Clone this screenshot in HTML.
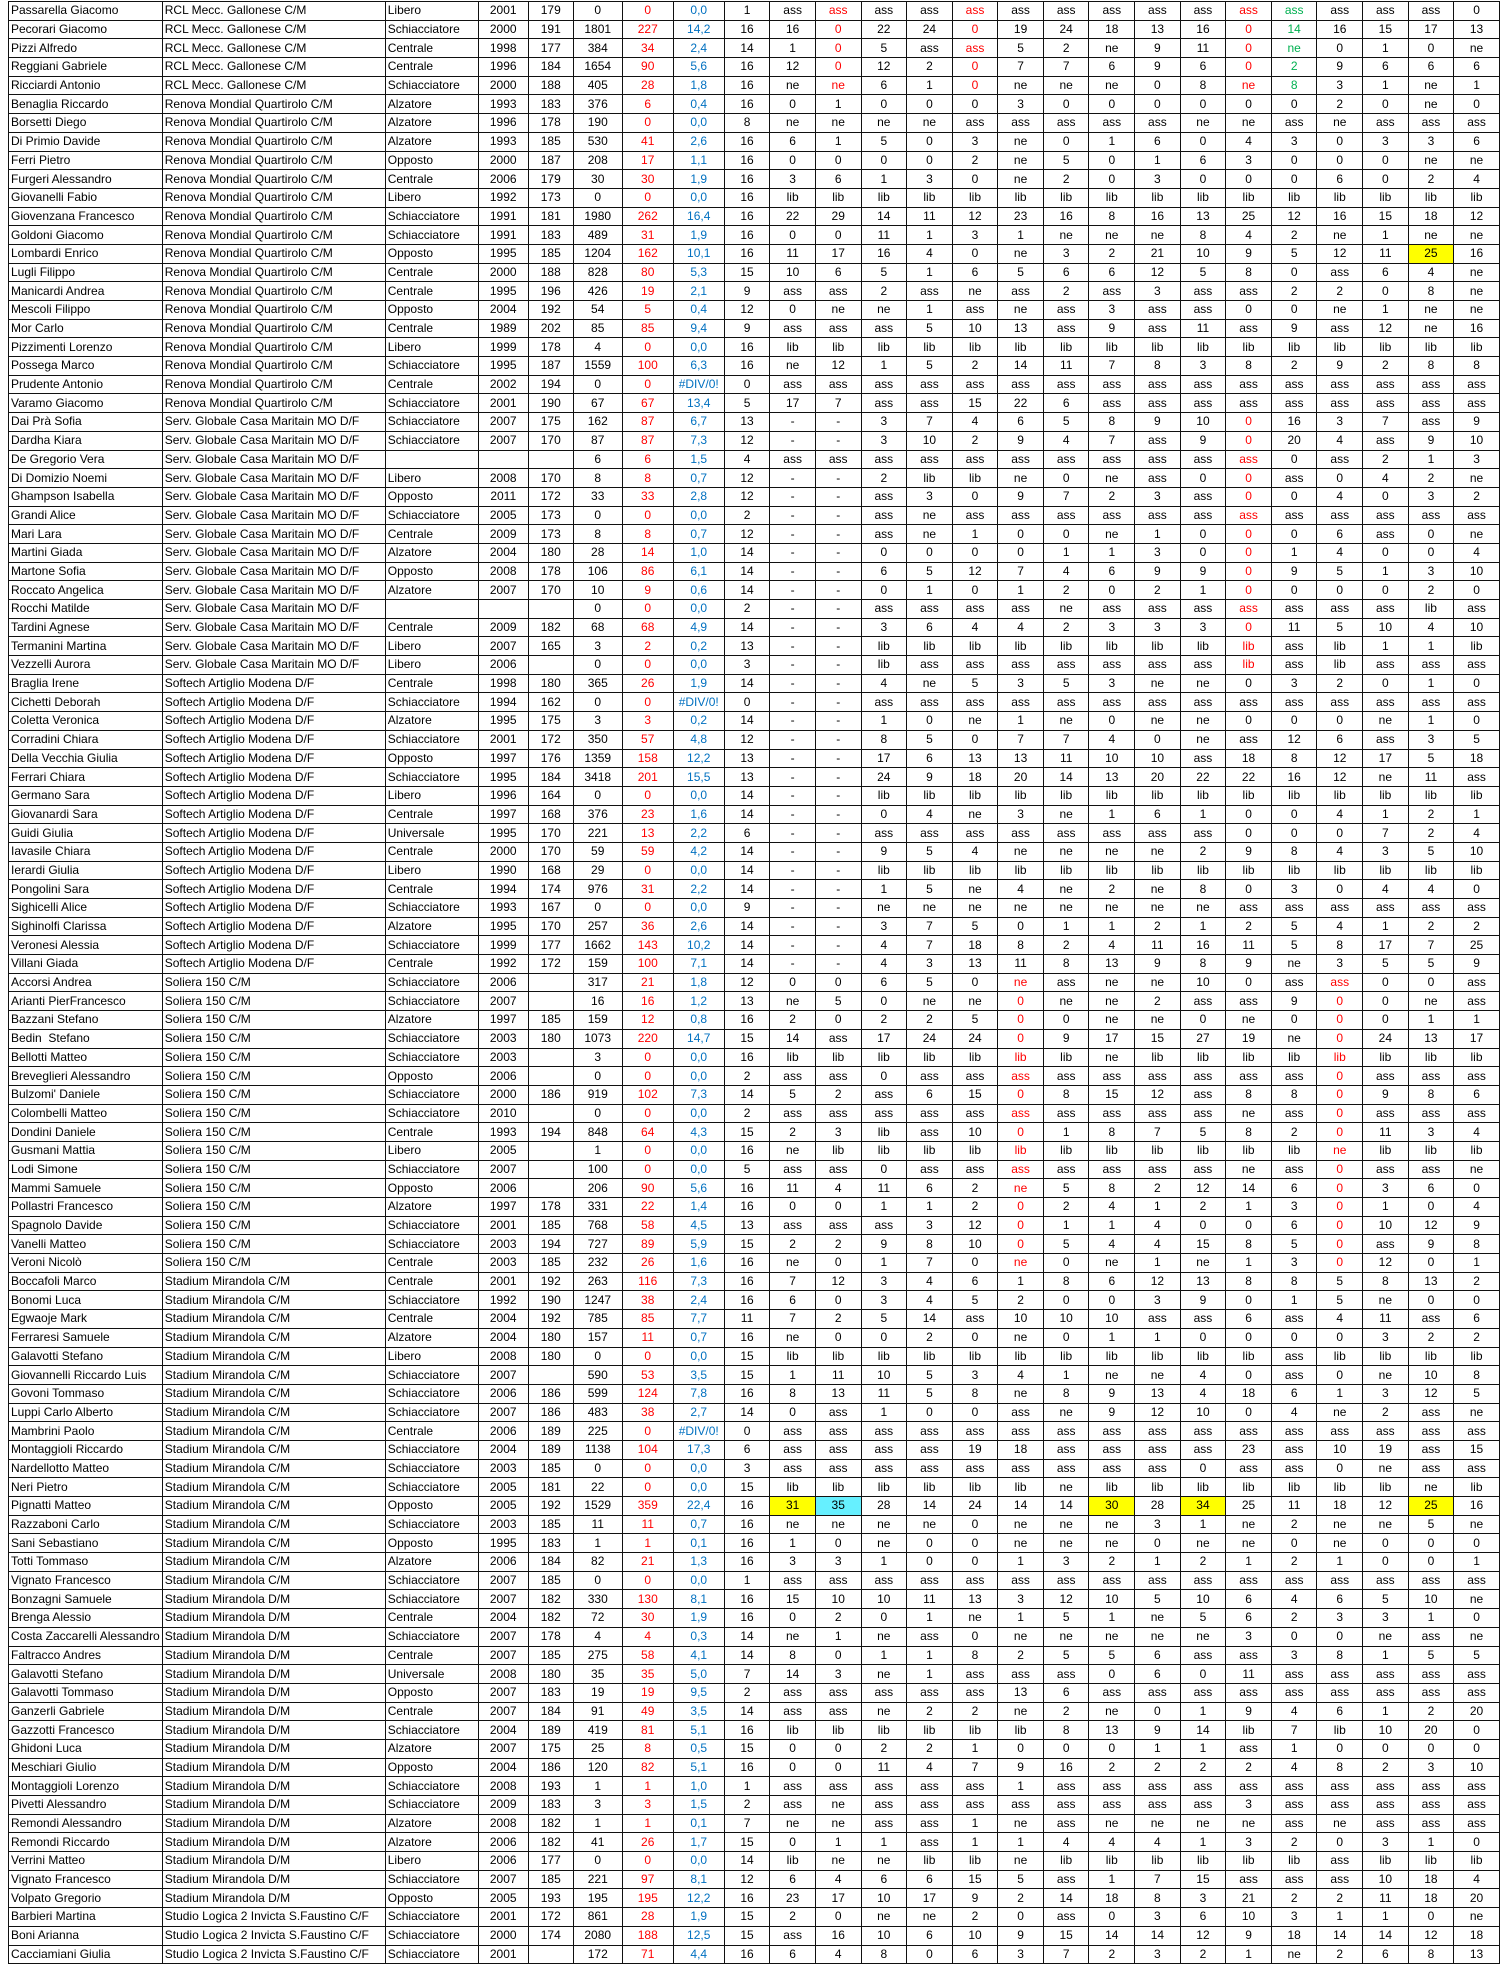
<!DOCTYPE html>
<html><head><meta charset="utf-8"><style>
html,body{margin:0;padding:0;background:#fff;width:1500px;height:1966px;overflow:hidden}
table{position:absolute;left:8px;top:1px;border-collapse:collapse;table-layout:fixed;font:12px "Liberation Sans",Arial,sans-serif;color:#000}
tr{height:18.7px}
td{border:1px solid #111;padding:0 2px;text-align:center;white-space:nowrap;overflow:hidden;line-height:15px}
td:nth-child(-n+3){text-align:left}
td:nth-child(7){color:#f00}
td:nth-child(8){color:#0070c0}
tr.r td:nth-child(11),tr.r td:nth-child(14),tr.r td:nth-child(20){color:#f00}
tr.r td:nth-child(21){color:#00b050}
tr.l td:nth-child(15),tr.l td:nth-child(22){color:#f00}
tr.s td:nth-child(20){color:#f00}
.y{background:#ff0}.c{background:#66f0ff}
</style></head><body>
<table>
<colgroup><col style="width:152px"><col style="width:223px"><col style="width:93px"><col style="width:50px"><col style="width:45px"><col style="width:49px"><col style="width:51px"><col style="width:51px"><col span="17" style="width:45.6px"></colgroup>
<tr class="r"><td>Passarella Giacomo<td>RCL Mecc. Gallonese C/M<td>Libero<td>2001<td>179<td>0<td>0<td>0,0<td>1<td>ass<td>ass<td>ass<td>ass<td>ass<td>ass<td>ass<td>ass<td>ass<td>ass<td>ass<td>ass<td>ass<td>ass<td>ass<td>0
<tr class="r"><td>Pecorari Giacomo<td>RCL Mecc. Gallonese C/M<td>Schiacciatore<td>2000<td>191<td>1801<td>227<td>14,2<td>16<td>16<td>0<td>22<td>24<td>0<td>19<td>24<td>18<td>13<td>16<td>0<td>14<td>16<td>15<td>17<td>13
<tr class="r"><td>Pizzi Alfredo<td>RCL Mecc. Gallonese C/M<td>Centrale<td>1998<td>177<td>384<td>34<td>2,4<td>14<td>1<td>0<td>5<td>ass<td>ass<td>5<td>2<td>ne<td>9<td>11<td>0<td>ne<td>0<td>1<td>0<td>ne
<tr class="r"><td>Reggiani Gabriele<td>RCL Mecc. Gallonese C/M<td>Centrale<td>1996<td>184<td>1654<td>90<td>5,6<td>16<td>12<td>0<td>12<td>2<td>0<td>7<td>7<td>6<td>9<td>6<td>0<td>2<td>9<td>6<td>6<td>6
<tr class="r"><td>Ricciardi Antonio<td>RCL Mecc. Gallonese C/M<td>Schiacciatore<td>2000<td>188<td>405<td>28<td>1,8<td>16<td>ne<td>ne<td>6<td>1<td>0<td>ne<td>ne<td>ne<td>0<td>8<td>ne<td>8<td>3<td>1<td>ne<td>1
<tr><td>Benaglia Riccardo<td>Renova Mondial Quartirolo C/M<td>Alzatore<td>1993<td>183<td>376<td>6<td>0,4<td>16<td>0<td>1<td>0<td>0<td>0<td>3<td>0<td>0<td>0<td>0<td>0<td>0<td>2<td>0<td>ne<td>0
<tr><td>Borsetti Diego<td>Renova Mondial Quartirolo C/M<td>Alzatore<td>1996<td>178<td>190<td>0<td>0,0<td>8<td>ne<td>ne<td>ne<td>ne<td>ass<td>ass<td>ass<td>ass<td>ass<td>ne<td>ne<td>ass<td>ne<td>ass<td>ass<td>ass
<tr><td>Di Primio Davide<td>Renova Mondial Quartirolo C/M<td>Alzatore<td>1993<td>185<td>530<td>41<td>2,6<td>16<td>6<td>1<td>5<td>0<td>3<td>ne<td>0<td>1<td>6<td>0<td>4<td>3<td>0<td>3<td>3<td>6
<tr><td>Ferri Pietro<td>Renova Mondial Quartirolo C/M<td>Opposto<td>2000<td>187<td>208<td>17<td>1,1<td>16<td>0<td>0<td>0<td>0<td>2<td>ne<td>5<td>0<td>1<td>6<td>3<td>0<td>0<td>0<td>ne<td>ne
<tr><td>Furgeri Alessandro<td>Renova Mondial Quartirolo C/M<td>Centrale<td>2006<td>179<td>30<td>30<td>1,9<td>16<td>3<td>6<td>1<td>3<td>0<td>ne<td>2<td>0<td>3<td>0<td>0<td>0<td>6<td>0<td>2<td>4
<tr><td>Giovanelli Fabio<td>Renova Mondial Quartirolo C/M<td>Libero<td>1992<td>173<td>0<td>0<td>0,0<td>16<td>lib<td>lib<td>lib<td>lib<td>lib<td>lib<td>lib<td>lib<td>lib<td>lib<td>lib<td>lib<td>lib<td>lib<td>lib<td>lib
<tr><td>Giovenzana Francesco<td>Renova Mondial Quartirolo C/M<td>Schiacciatore<td>1991<td>181<td>1980<td>262<td>16,4<td>16<td>22<td>29<td>14<td>11<td>12<td>23<td>16<td>8<td>16<td>13<td>25<td>12<td>16<td>15<td>18<td>12
<tr><td>Goldoni Giacomo<td>Renova Mondial Quartirolo C/M<td>Schiacciatore<td>1991<td>183<td>489<td>31<td>1,9<td>16<td>0<td>0<td>11<td>1<td>3<td>1<td>ne<td>ne<td>ne<td>8<td>4<td>2<td>ne<td>1<td>ne<td>ne
<tr><td>Lombardi Enrico<td>Renova Mondial Quartirolo C/M<td>Opposto<td>1995<td>185<td>1204<td>162<td>10,1<td>16<td>11<td>17<td>16<td>4<td>0<td>ne<td>3<td>2<td>21<td>10<td>9<td>5<td>12<td>11<td class="y">25<td>16
<tr><td>Lugli Filippo<td>Renova Mondial Quartirolo C/M<td>Centrale<td>2000<td>188<td>828<td>80<td>5,3<td>15<td>10<td>6<td>5<td>1<td>6<td>5<td>6<td>6<td>12<td>5<td>8<td>0<td>ass<td>6<td>4<td>ne
<tr><td>Manicardi Andrea<td>Renova Mondial Quartirolo C/M<td>Centrale<td>1995<td>196<td>426<td>19<td>2,1<td>9<td>ass<td>ass<td>2<td>ass<td>ne<td>ass<td>2<td>ass<td>3<td>ass<td>ass<td>2<td>2<td>0<td>8<td>ne
<tr><td>Mescoli Filippo<td>Renova Mondial Quartirolo C/M<td>Opposto<td>2004<td>192<td>54<td>5<td>0,4<td>12<td>0<td>ne<td>ne<td>1<td>ass<td>ne<td>ass<td>3<td>ass<td>ass<td>0<td>0<td>ne<td>1<td>ne<td>ne
<tr><td>Mor Carlo<td>Renova Mondial Quartirolo C/M<td>Centrale<td>1989<td>202<td>85<td>85<td>9,4<td>9<td>ass<td>ass<td>ass<td>5<td>10<td>13<td>ass<td>9<td>ass<td>11<td>ass<td>9<td>ass<td>12<td>ne<td>16
<tr><td>Pizzimenti Lorenzo<td>Renova Mondial Quartirolo C/M<td>Libero<td>1999<td>178<td>4<td>0<td>0,0<td>16<td>lib<td>lib<td>lib<td>lib<td>lib<td>lib<td>lib<td>lib<td>lib<td>lib<td>lib<td>lib<td>lib<td>lib<td>lib<td>lib
<tr><td>Possega Marco<td>Renova Mondial Quartirolo C/M<td>Schiacciatore<td>1995<td>187<td>1559<td>100<td>6,3<td>16<td>ne<td>12<td>1<td>5<td>2<td>14<td>11<td>7<td>8<td>3<td>8<td>2<td>9<td>2<td>8<td>8
<tr><td>Prudente Antonio<td>Renova Mondial Quartirolo C/M<td>Centrale<td>2002<td>194<td>0<td>0<td>#DIV/0!<td>0<td>ass<td>ass<td>ass<td>ass<td>ass<td>ass<td>ass<td>ass<td>ass<td>ass<td>ass<td>ass<td>ass<td>ass<td>ass<td>ass
<tr><td>Varamo Giacomo<td>Renova Mondial Quartirolo C/M<td>Schiacciatore<td>2001<td>190<td>67<td>67<td>13,4<td>5<td>17<td>7<td>ass<td>ass<td>15<td>22<td>6<td>ass<td>ass<td>ass<td>ass<td>ass<td>ass<td>ass<td>ass<td>ass
<tr class="s"><td>Dai Prà Sofia<td>Serv. Globale Casa Maritain MO D/F<td>Schiacciatore<td>2007<td>175<td>162<td>87<td>6,7<td>13<td>-<td>-<td>3<td>7<td>4<td>6<td>5<td>8<td>9<td>10<td>0<td>16<td>3<td>7<td>ass<td>9
<tr class="s"><td>Dardha Kiara<td>Serv. Globale Casa Maritain MO D/F<td>Schiacciatore<td>2007<td>170<td>87<td>87<td>7,3<td>12<td>-<td>-<td>3<td>10<td>2<td>9<td>4<td>7<td>ass<td>9<td>0<td>20<td>4<td>ass<td>9<td>10
<tr class="s"><td>De Gregorio Vera<td>Serv. Globale Casa Maritain MO D/F<td><td><td><td>6<td>6<td>1,5<td>4<td>ass<td>ass<td>ass<td>ass<td>ass<td>ass<td>ass<td>ass<td>ass<td>ass<td>ass<td>0<td>ass<td>2<td>1<td>3
<tr class="s"><td>Di Domizio Noemi<td>Serv. Globale Casa Maritain MO D/F<td>Libero<td>2008<td>170<td>8<td>8<td>0,7<td>12<td>-<td>-<td>2<td>lib<td>lib<td>ne<td>0<td>ne<td>ass<td>0<td>0<td>ass<td>0<td>4<td>2<td>ne
<tr class="s"><td>Ghampson Isabella<td>Serv. Globale Casa Maritain MO D/F<td>Opposto<td>2011<td>172<td>33<td>33<td>2,8<td>12<td>-<td>-<td>ass<td>3<td>0<td>9<td>7<td>2<td>3<td>ass<td>0<td>0<td>4<td>0<td>3<td>2
<tr class="s"><td>Grandi Alice<td>Serv. Globale Casa Maritain MO D/F<td>Schiacciatore<td>2005<td>173<td>0<td>0<td>0,0<td>2<td>-<td>-<td>ass<td>ne<td>ass<td>ass<td>ass<td>ass<td>ass<td>ass<td>ass<td>ass<td>ass<td>ass<td>ass<td>ass
<tr class="s"><td>Mari Lara<td>Serv. Globale Casa Maritain MO D/F<td>Centrale<td>2009<td>173<td>8<td>8<td>0,7<td>12<td>-<td>-<td>ass<td>ne<td>1<td>0<td>0<td>ne<td>1<td>0<td>0<td>0<td>6<td>ass<td>0<td>ne
<tr class="s"><td>Martini Giada<td>Serv. Globale Casa Maritain MO D/F<td>Alzatore<td>2004<td>180<td>28<td>14<td>1,0<td>14<td>-<td>-<td>0<td>0<td>0<td>0<td>1<td>1<td>3<td>0<td>0<td>1<td>4<td>0<td>0<td>4
<tr class="s"><td>Martone Sofia<td>Serv. Globale Casa Maritain MO D/F<td>Opposto<td>2008<td>178<td>106<td>86<td>6,1<td>14<td>-<td>-<td>6<td>5<td>12<td>7<td>4<td>6<td>9<td>9<td>0<td>9<td>5<td>1<td>3<td>10
<tr class="s"><td>Roccato Angelica<td>Serv. Globale Casa Maritain MO D/F<td>Alzatore<td>2007<td>170<td>10<td>9<td>0,6<td>14<td>-<td>-<td>0<td>1<td>0<td>1<td>2<td>0<td>2<td>1<td>0<td>0<td>0<td>0<td>2<td>0
<tr class="s"><td>Rocchi Matilde<td>Serv. Globale Casa Maritain MO D/F<td><td><td><td>0<td>0<td>0,0<td>2<td>-<td>-<td>ass<td>ass<td>ass<td>ass<td>ne<td>ass<td>ass<td>ass<td>ass<td>ass<td>ass<td>ass<td>lib<td>ass
<tr class="s"><td>Tardini Agnese<td>Serv. Globale Casa Maritain MO D/F<td>Centrale<td>2009<td>182<td>68<td>68<td>4,9<td>14<td>-<td>-<td>3<td>6<td>4<td>4<td>2<td>3<td>3<td>3<td>0<td>11<td>5<td>10<td>4<td>10
<tr class="s"><td>Termanini Martina<td>Serv. Globale Casa Maritain MO D/F<td>Libero<td>2007<td>165<td>3<td>2<td>0,2<td>13<td>-<td>-<td>lib<td>lib<td>lib<td>lib<td>lib<td>lib<td>lib<td>lib<td>lib<td>ass<td>lib<td>1<td>1<td>lib
<tr class="s"><td>Vezzelli Aurora<td>Serv. Globale Casa Maritain MO D/F<td>Libero<td>2006<td><td>0<td>0<td>0,0<td>3<td>-<td>-<td>lib<td>ass<td>ass<td>ass<td>ass<td>ass<td>ass<td>ass<td>lib<td>ass<td>lib<td>ass<td>ass<td>ass
<tr><td>Braglia Irene<td>Softech Artiglio Modena D/F<td>Centrale<td>1998<td>180<td>365<td>26<td>1,9<td>14<td>-<td>-<td>4<td>ne<td>5<td>3<td>5<td>3<td>ne<td>ne<td>0<td>3<td>2<td>0<td>1<td>0
<tr><td>Cichetti Deborah<td>Softech Artiglio Modena D/F<td>Schiacciatore<td>1994<td>162<td>0<td>0<td>#DIV/0!<td>0<td>-<td>-<td>ass<td>ass<td>ass<td>ass<td>ass<td>ass<td>ass<td>ass<td>ass<td>ass<td>ass<td>ass<td>ass<td>ass
<tr><td>Coletta Veronica<td>Softech Artiglio Modena D/F<td>Alzatore<td>1995<td>175<td>3<td>3<td>0,2<td>14<td>-<td>-<td>1<td>0<td>ne<td>1<td>ne<td>0<td>ne<td>ne<td>0<td>0<td>0<td>ne<td>1<td>0
<tr><td>Corradini Chiara<td>Softech Artiglio Modena D/F<td>Schiacciatore<td>2001<td>172<td>350<td>57<td>4,8<td>12<td>-<td>-<td>8<td>5<td>0<td>7<td>7<td>4<td>0<td>ne<td>ass<td>12<td>6<td>ass<td>3<td>5
<tr><td>Della Vecchia Giulia<td>Softech Artiglio Modena D/F<td>Opposto<td>1997<td>176<td>1359<td>158<td>12,2<td>13<td>-<td>-<td>17<td>6<td>13<td>13<td>11<td>10<td>10<td>ass<td>18<td>8<td>12<td>17<td>5<td>18
<tr><td>Ferrari Chiara<td>Softech Artiglio Modena D/F<td>Schiacciatore<td>1995<td>184<td>3418<td>201<td>15,5<td>13<td>-<td>-<td>24<td>9<td>18<td>20<td>14<td>13<td>20<td>22<td>22<td>16<td>12<td>ne<td>11<td>ass
<tr><td>Germano Sara<td>Softech Artiglio Modena D/F<td>Libero<td>1996<td>164<td>0<td>0<td>0,0<td>14<td>-<td>-<td>lib<td>lib<td>lib<td>lib<td>lib<td>lib<td>lib<td>lib<td>lib<td>lib<td>lib<td>lib<td>lib<td>lib
<tr><td>Giovanardi Sara<td>Softech Artiglio Modena D/F<td>Centrale<td>1997<td>168<td>376<td>23<td>1,6<td>14<td>-<td>-<td>0<td>4<td>ne<td>3<td>ne<td>1<td>6<td>1<td>0<td>0<td>4<td>1<td>2<td>1
<tr><td>Guidi Giulia<td>Softech Artiglio Modena D/F<td>Universale<td>1995<td>170<td>221<td>13<td>2,2<td>6<td>-<td>-<td>ass<td>ass<td>ass<td>ass<td>ass<td>ass<td>ass<td>ass<td>0<td>0<td>0<td>7<td>2<td>4
<tr><td>Iavasile Chiara<td>Softech Artiglio Modena D/F<td>Centrale<td>2000<td>170<td>59<td>59<td>4,2<td>14<td>-<td>-<td>9<td>5<td>4<td>ne<td>ne<td>ne<td>ne<td>2<td>9<td>8<td>4<td>3<td>5<td>10
<tr><td>Ierardi Giulia<td>Softech Artiglio Modena D/F<td>Libero<td>1990<td>168<td>29<td>0<td>0,0<td>14<td>-<td>-<td>lib<td>lib<td>lib<td>lib<td>lib<td>lib<td>lib<td>lib<td>lib<td>lib<td>lib<td>lib<td>lib<td>lib
<tr><td>Pongolini Sara<td>Softech Artiglio Modena D/F<td>Centrale<td>1994<td>174<td>976<td>31<td>2,2<td>14<td>-<td>-<td>1<td>5<td>ne<td>4<td>ne<td>2<td>ne<td>8<td>0<td>3<td>0<td>4<td>4<td>0
<tr><td>Sighicelli Alice<td>Softech Artiglio Modena D/F<td>Schiacciatore<td>1993<td>167<td>0<td>0<td>0,0<td>9<td>-<td>-<td>ne<td>ne<td>ne<td>ne<td>ne<td>ne<td>ne<td>ne<td>ass<td>ass<td>ass<td>ass<td>ass<td>ass
<tr><td>Sighinolfi Clarissa<td>Softech Artiglio Modena D/F<td>Alzatore<td>1995<td>170<td>257<td>36<td>2,6<td>14<td>-<td>-<td>3<td>7<td>5<td>0<td>1<td>1<td>2<td>1<td>2<td>5<td>4<td>1<td>2<td>2
<tr><td>Veronesi Alessia<td>Softech Artiglio Modena D/F<td>Schiacciatore<td>1999<td>177<td>1662<td>143<td>10,2<td>14<td>-<td>-<td>4<td>7<td>18<td>8<td>2<td>4<td>11<td>16<td>11<td>5<td>8<td>17<td>7<td>25
<tr><td>Villani Giada<td>Softech Artiglio Modena D/F<td>Centrale<td>1992<td>172<td>159<td>100<td>7,1<td>14<td>-<td>-<td>4<td>3<td>13<td>11<td>8<td>13<td>9<td>8<td>9<td>ne<td>3<td>5<td>5<td>9
<tr class="l"><td>Accorsi Andrea<td>Soliera 150 C/M<td>Schiacciatore<td>2006<td><td>317<td>21<td>1,8<td>12<td>0<td>0<td>6<td>5<td>0<td>ne<td>ass<td>ne<td>ne<td>10<td>0<td>ass<td>ass<td>0<td>0<td>ass
<tr class="l"><td>Arianti PierFrancesco<td>Soliera 150 C/M<td>Schiacciatore<td>2007<td><td>16<td>16<td>1,2<td>13<td>ne<td>5<td>0<td>ne<td>ne<td>0<td>ne<td>ne<td>2<td>ass<td>ass<td>9<td>0<td>0<td>ne<td>ass
<tr class="l"><td>Bazzani Stefano<td>Soliera 150 C/M<td>Alzatore<td>1997<td>185<td>159<td>12<td>0,8<td>16<td>2<td>0<td>2<td>2<td>5<td>0<td>0<td>ne<td>ne<td>0<td>ne<td>0<td>0<td>0<td>1<td>1
<tr class="l"><td>Bedin&nbsp; Stefano<td>Soliera 150 C/M<td>Schiacciatore<td>2003<td>180<td>1073<td>220<td>14,7<td>15<td>14<td>ass<td>17<td>24<td>24<td>0<td>9<td>17<td>15<td>27<td>19<td>ne<td>0<td>24<td>13<td>17
<tr class="l"><td>Bellotti Matteo<td>Soliera 150 C/M<td>Schiacciatore<td>2003<td><td>3<td>0<td>0,0<td>16<td>lib<td>lib<td>lib<td>lib<td>lib<td>lib<td>lib<td>ne<td>lib<td>lib<td>lib<td>lib<td>lib<td>lib<td>lib<td>lib
<tr class="l"><td>Breveglieri Alessandro<td>Soliera 150 C/M<td>Opposto<td>2006<td><td>0<td>0<td>0,0<td>2<td>ass<td>ass<td>0<td>ass<td>ass<td>ass<td>ass<td>ass<td>ass<td>ass<td>ass<td>ass<td>0<td>ass<td>ass<td>ass
<tr class="l"><td>Bulzomi' Daniele<td>Soliera 150 C/M<td>Schiacciatore<td>2000<td>186<td>919<td>102<td>7,3<td>14<td>5<td>2<td>ass<td>6<td>15<td>0<td>8<td>15<td>12<td>ass<td>8<td>8<td>0<td>9<td>8<td>6
<tr class="l"><td>Colombelli Matteo<td>Soliera 150 C/M<td>Schiacciatore<td>2010<td><td>0<td>0<td>0,0<td>2<td>ass<td>ass<td>ass<td>ass<td>ass<td>ass<td>ass<td>ass<td>ass<td>ass<td>ne<td>ass<td>0<td>ass<td>ass<td>ass
<tr class="l"><td>Dondini Daniele<td>Soliera 150 C/M<td>Centrale<td>1993<td>194<td>848<td>64<td>4,3<td>15<td>2<td>3<td>lib<td>ass<td>10<td>0<td>1<td>8<td>7<td>5<td>8<td>2<td>0<td>11<td>3<td>4
<tr class="l"><td>Gusmani Mattia<td>Soliera 150 C/M<td>Libero<td>2005<td><td>1<td>0<td>0,0<td>16<td>ne<td>lib<td>lib<td>lib<td>lib<td>lib<td>lib<td>lib<td>lib<td>lib<td>lib<td>lib<td>ne<td>lib<td>lib<td>lib
<tr class="l"><td>Lodi Simone<td>Soliera 150 C/M<td>Schiacciatore<td>2007<td><td>100<td>0<td>0,0<td>5<td>ass<td>ass<td>0<td>ass<td>ass<td>ass<td>ass<td>ass<td>ass<td>ass<td>ne<td>ass<td>0<td>ass<td>ass<td>ne
<tr class="l"><td>Mammi Samuele<td>Soliera 150 C/M<td>Opposto<td>2006<td><td>206<td>90<td>5,6<td>16<td>11<td>4<td>11<td>6<td>2<td>ne<td>5<td>8<td>2<td>12<td>14<td>6<td>0<td>3<td>6<td>0
<tr class="l"><td>Pollastri Francesco<td>Soliera 150 C/M<td>Alzatore<td>1997<td>178<td>331<td>22<td>1,4<td>16<td>0<td>0<td>1<td>1<td>2<td>0<td>2<td>4<td>1<td>2<td>1<td>3<td>0<td>1<td>0<td>4
<tr class="l"><td>Spagnolo Davide<td>Soliera 150 C/M<td>Schiacciatore<td>2001<td>185<td>768<td>58<td>4,5<td>13<td>ass<td>ass<td>ass<td>3<td>12<td>0<td>1<td>1<td>4<td>0<td>0<td>6<td>0<td>10<td>12<td>9
<tr class="l"><td>Vanelli Matteo<td>Soliera 150 C/M<td>Schiacciatore<td>2003<td>194<td>727<td>89<td>5,9<td>15<td>2<td>2<td>9<td>8<td>10<td>0<td>5<td>4<td>4<td>15<td>8<td>5<td>0<td>ass<td>9<td>8
<tr class="l"><td>Veroni Nicolò<td>Soliera 150 C/M<td>Centrale<td>2003<td>185<td>232<td>26<td>1,6<td>16<td>ne<td>0<td>1<td>7<td>0<td>ne<td>0<td>ne<td>1<td>ne<td>1<td>3<td>0<td>12<td>0<td>1
<tr><td>Boccafoli Marco<td>Stadium Mirandola C/M<td>Centrale<td>2001<td>192<td>263<td>116<td>7,3<td>16<td>7<td>12<td>3<td>4<td>6<td>1<td>8<td>6<td>12<td>13<td>8<td>8<td>5<td>8<td>13<td>2
<tr><td>Bonomi Luca<td>Stadium Mirandola C/M<td>Schiacciatore<td>1992<td>190<td>1247<td>38<td>2,4<td>16<td>6<td>0<td>3<td>4<td>5<td>2<td>0<td>0<td>3<td>9<td>0<td>1<td>5<td>ne<td>0<td>0
<tr><td>Egwaoje Mark<td>Stadium Mirandola C/M<td>Centrale<td>2004<td>192<td>785<td>85<td>7,7<td>11<td>7<td>2<td>5<td>14<td>ass<td>10<td>10<td>10<td>ass<td>ass<td>6<td>ass<td>4<td>11<td>ass<td>6
<tr><td>Ferraresi Samuele<td>Stadium Mirandola C/M<td>Alzatore<td>2004<td>180<td>157<td>11<td>0,7<td>16<td>ne<td>0<td>0<td>2<td>0<td>ne<td>0<td>1<td>1<td>0<td>0<td>0<td>0<td>3<td>2<td>2
<tr><td>Galavotti Stefano<td>Stadium Mirandola C/M<td>Libero<td>2008<td>180<td>0<td>0<td>0,0<td>15<td>lib<td>lib<td>lib<td>lib<td>lib<td>lib<td>lib<td>lib<td>lib<td>lib<td>lib<td>ass<td>lib<td>lib<td>lib<td>lib
<tr><td>Giovannelli Riccardo Luis<td>Stadium Mirandola C/M<td>Schiacciatore<td>2007<td><td>590<td>53<td>3,5<td>15<td>1<td>11<td>10<td>5<td>3<td>4<td>1<td>ne<td>ne<td>4<td>0<td>ass<td>0<td>ne<td>10<td>8
<tr><td>Govoni Tommaso<td>Stadium Mirandola C/M<td>Schiacciatore<td>2006<td>186<td>599<td>124<td>7,8<td>16<td>8<td>13<td>11<td>5<td>8<td>ne<td>8<td>9<td>13<td>4<td>18<td>6<td>1<td>3<td>12<td>5
<tr><td>Luppi Carlo Alberto<td>Stadium Mirandola C/M<td>Schiacciatore<td>2007<td>186<td>483<td>38<td>2,7<td>14<td>0<td>ass<td>1<td>0<td>0<td>ass<td>ne<td>9<td>12<td>10<td>0<td>4<td>ne<td>2<td>ass<td>ne
<tr><td>Mambrini Paolo<td>Stadium Mirandola C/M<td>Centrale<td>2006<td>189<td>225<td>0<td>#DIV/0!<td>0<td>ass<td>ass<td>ass<td>ass<td>ass<td>ass<td>ass<td>ass<td>ass<td>ass<td>ass<td>ass<td>ass<td>ass<td>ass<td>ass
<tr><td>Montaggioli Riccardo<td>Stadium Mirandola C/M<td>Schiacciatore<td>2004<td>189<td>1138<td>104<td>17,3<td>6<td>ass<td>ass<td>ass<td>ass<td>19<td>18<td>ass<td>ass<td>ass<td>ass<td>23<td>ass<td>10<td>19<td>ass<td>15
<tr><td>Nardellotto Matteo<td>Stadium Mirandola C/M<td>Schiacciatore<td>2003<td>185<td>0<td>0<td>0,0<td>3<td>ass<td>ass<td>ass<td>ass<td>ass<td>ass<td>ass<td>ass<td>ass<td>0<td>ass<td>ass<td>0<td>ne<td>ass<td>ass
<tr><td>Neri Pietro<td>Stadium Mirandola C/M<td>Schiacciatore<td>2005<td>181<td>22<td>0<td>0,0<td>15<td>lib<td>lib<td>lib<td>lib<td>lib<td>lib<td>ne<td>lib<td>lib<td>lib<td>lib<td>lib<td>lib<td>lib<td>ne<td>lib
<tr><td>Pignatti Matteo<td>Stadium Mirandola C/M<td>Opposto<td>2005<td>192<td>1529<td>359<td>22,4<td>16<td class="y">31<td class="c">35<td>28<td>14<td>24<td>14<td>14<td class="y">30<td>28<td class="y">34<td>25<td>11<td>18<td>12<td class="y">25<td>16
<tr><td>Razzaboni Carlo<td>Stadium Mirandola C/M<td>Schiacciatore<td>2003<td>185<td>11<td>11<td>0,7<td>16<td>ne<td>ne<td>ne<td>ne<td>0<td>ne<td>ne<td>ne<td>3<td>1<td>ne<td>2<td>ne<td>ne<td>5<td>ne
<tr><td>Sani Sebastiano<td>Stadium Mirandola C/M<td>Opposto<td>1995<td>183<td>1<td>1<td>0,1<td>16<td>1<td>0<td>ne<td>0<td>0<td>ne<td>ne<td>ne<td>0<td>ne<td>ne<td>0<td>ne<td>0<td>0<td>0
<tr><td>Totti Tommaso<td>Stadium Mirandola C/M<td>Alzatore<td>2006<td>184<td>82<td>21<td>1,3<td>16<td>3<td>3<td>1<td>0<td>0<td>1<td>3<td>2<td>1<td>2<td>1<td>2<td>1<td>0<td>0<td>1
<tr><td>Vignato Francesco<td>Stadium Mirandola C/M<td>Schiacciatore<td>2007<td>185<td>0<td>0<td>0,0<td>1<td>ass<td>ass<td>ass<td>ass<td>ass<td>ass<td>ass<td>ass<td>ass<td>ass<td>ass<td>ass<td>ass<td>ass<td>ass<td>ass
<tr><td>Bonzagni Samuele<td>Stadium Mirandola D/M<td>Schiacciatore<td>2007<td>182<td>330<td>130<td>8,1<td>16<td>15<td>10<td>10<td>11<td>13<td>3<td>12<td>10<td>5<td>10<td>6<td>4<td>6<td>5<td>10<td>ne
<tr><td>Brenga Alessio<td>Stadium Mirandola D/M<td>Centrale<td>2004<td>182<td>72<td>30<td>1,9<td>16<td>0<td>2<td>0<td>1<td>ne<td>1<td>5<td>1<td>ne<td>5<td>6<td>2<td>3<td>3<td>1<td>0
<tr><td>Costa Zaccarelli Alessandro<td>Stadium Mirandola D/M<td>Schiacciatore<td>2007<td>178<td>4<td>4<td>0,3<td>14<td>ne<td>1<td>ne<td>ass<td>0<td>ne<td>ne<td>ne<td>ne<td>ne<td>3<td>0<td>0<td>ne<td>ass<td>ne
<tr><td>Faltracco Andres<td>Stadium Mirandola D/M<td>Centrale<td>2007<td>185<td>275<td>58<td>4,1<td>14<td>8<td>0<td>1<td>1<td>8<td>2<td>5<td>5<td>6<td>ass<td>ass<td>3<td>8<td>1<td>5<td>5
<tr><td>Galavotti Stefano<td>Stadium Mirandola D/M<td>Universale<td>2008<td>180<td>35<td>35<td>5,0<td>7<td>14<td>3<td>ne<td>1<td>ass<td>ass<td>ass<td>0<td>6<td>0<td>11<td>ass<td>ass<td>ass<td>ass<td>ass
<tr><td>Galavotti Tommaso<td>Stadium Mirandola D/M<td>Opposto<td>2007<td>183<td>19<td>19<td>9,5<td>2<td>ass<td>ass<td>ass<td>ass<td>ass<td>13<td>6<td>ass<td>ass<td>ass<td>ass<td>ass<td>ass<td>ass<td>ass<td>ass
<tr><td>Ganzerli Gabriele<td>Stadium Mirandola D/M<td>Centrale<td>2007<td>184<td>91<td>49<td>3,5<td>14<td>ass<td>ass<td>ne<td>2<td>2<td>ne<td>2<td>ne<td>0<td>1<td>9<td>4<td>6<td>1<td>2<td>20
<tr><td>Gazzotti Francesco<td>Stadium Mirandola D/M<td>Schiacciatore<td>2004<td>189<td>419<td>81<td>5,1<td>16<td>lib<td>lib<td>lib<td>lib<td>lib<td>lib<td>8<td>13<td>9<td>14<td>lib<td>7<td>lib<td>10<td>20<td>0
<tr><td>Ghidoni Luca<td>Stadium Mirandola D/M<td>Alzatore<td>2007<td>175<td>25<td>8<td>0,5<td>15<td>0<td>0<td>2<td>2<td>1<td>0<td>0<td>0<td>1<td>1<td>ass<td>1<td>0<td>0<td>0<td>0
<tr><td>Meschiari Giulio<td>Stadium Mirandola D/M<td>Opposto<td>2004<td>186<td>120<td>82<td>5,1<td>16<td>0<td>0<td>11<td>4<td>7<td>9<td>16<td>2<td>2<td>2<td>2<td>4<td>8<td>2<td>3<td>10
<tr><td>Montaggioli Lorenzo<td>Stadium Mirandola D/M<td>Schiacciatore<td>2008<td>193<td>1<td>1<td>1,0<td>1<td>ass<td>ass<td>ass<td>ass<td>ass<td>1<td>ass<td>ass<td>ass<td>ass<td>ass<td>ass<td>ass<td>ass<td>ass<td>ass
<tr><td>Pivetti Alessandro<td>Stadium Mirandola D/M<td>Schiacciatore<td>2009<td>183<td>3<td>3<td>1,5<td>2<td>ass<td>ne<td>ass<td>ass<td>ass<td>ass<td>ass<td>ass<td>ass<td>ass<td>3<td>ass<td>ass<td>ass<td>ass<td>ass
<tr><td>Remondi Alessandro<td>Stadium Mirandola D/M<td>Alzatore<td>2008<td>182<td>1<td>1<td>0,1<td>7<td>ne<td>ne<td>ass<td>ass<td>1<td>ne<td>ass<td>ne<td>ne<td>ne<td>ne<td>ass<td>ne<td>ass<td>ass<td>ass
<tr><td>Remondi Riccardo<td>Stadium Mirandola D/M<td>Alzatore<td>2006<td>182<td>41<td>26<td>1,7<td>15<td>0<td>1<td>1<td>ass<td>1<td>1<td>4<td>4<td>4<td>1<td>3<td>2<td>0<td>3<td>1<td>0
<tr><td>Verrini Matteo<td>Stadium Mirandola D/M<td>Libero<td>2006<td>177<td>0<td>0<td>0,0<td>14<td>lib<td>ne<td>ne<td>lib<td>lib<td>ne<td>lib<td>lib<td>lib<td>lib<td>lib<td>lib<td>ass<td>lib<td>lib<td>lib
<tr><td>Vignato Francesco<td>Stadium Mirandola D/M<td>Schiacciatore<td>2007<td>185<td>221<td>97<td>8,1<td>12<td>6<td>4<td>6<td>6<td>15<td>5<td>ass<td>1<td>7<td>15<td>ass<td>ass<td>ass<td>10<td>18<td>4
<tr><td>Volpato Gregorio<td>Stadium Mirandola D/M<td>Opposto<td>2005<td>193<td>195<td>195<td>12,2<td>16<td>23<td>17<td>10<td>17<td>9<td>2<td>14<td>18<td>8<td>3<td>21<td>2<td>2<td>11<td>18<td>20
<tr><td>Barbieri Martina<td>Studio Logica 2 Invicta S.Faustino C/F<td>Schiacciatore<td>2001<td>172<td>861<td>28<td>1,9<td>15<td>2<td>0<td>ne<td>ne<td>2<td>0<td>ass<td>0<td>3<td>6<td>10<td>3<td>1<td>1<td>0<td>ne
<tr><td>Boni Arianna<td>Studio Logica 2 Invicta S.Faustino C/F<td>Schiacciatore<td>2000<td>174<td>2080<td>188<td>12,5<td>15<td>ass<td>16<td>10<td>6<td>10<td>9<td>15<td>14<td>14<td>12<td>9<td>18<td>14<td>14<td>12<td>18
<tr><td>Cacciamiani Giulia<td>Studio Logica 2 Invicta S.Faustino C/F<td>Schiacciatore<td>2001<td><td>172<td>71<td>4,4<td>16<td>6<td>4<td>8<td>0<td>6<td>3<td>7<td>2<td>3<td>2<td>1<td>ne<td>2<td>6<td>8<td>13
</table>
</body></html>
